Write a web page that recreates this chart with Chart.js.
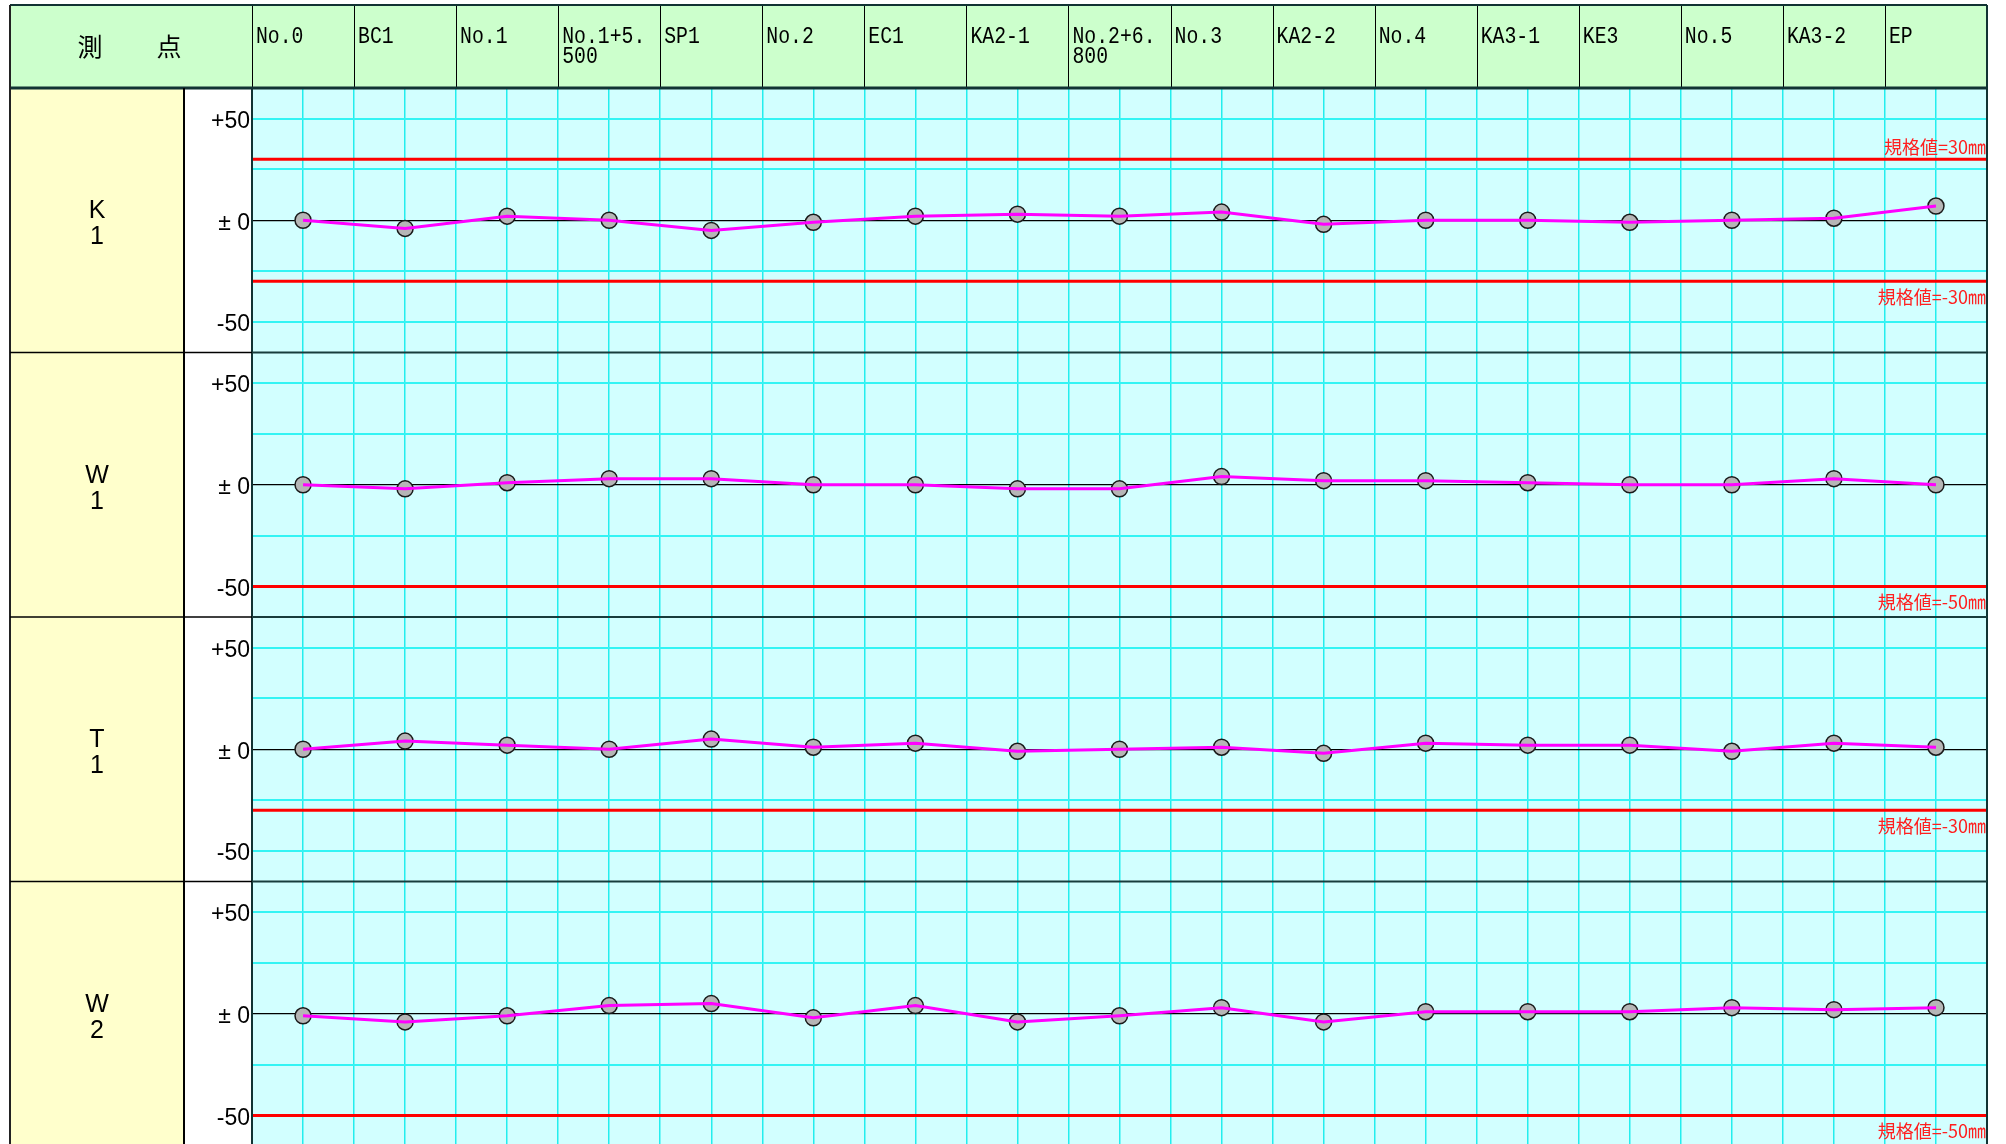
<!DOCTYPE html>
<html>
<head>
<meta charset="utf-8">
<script src="https://cdn.jsdelivr.net/npm/chart.js@4/dist/chart.umd.min.js"></script>
<style>
html,body{margin:0;padding:0;background:#fff;overflow:hidden;}
canvas{display:block;}
</style>
</head>
<body>
<canvas id="c" width="2006" height="1150"></canvas>
<script>
// ---- data ----
const stations = ['No.0','BC1','No.1','No.1+5.500','SP1','No.2','EC1','KA2-1','No.2+6.800','No.3','KA2-2','No.4','KA3-1','KE3','No.5','KA3-2','EP'];
const headerTitle = ['測','点'];
const panelNames = ['K1','W1','T1','W2'];
const k1Values = [0,-4,2,0,-5,-1,2,3,2,4,-2,0,0,-1,0,1,7];
const w1Values = [0,-2,1,3,3,0,0,-2,-2,4,2,2,1,0,0,3,0];
const t1Values = [0,4,2,0,5,1,3,-1,0,1,-2,3,2,2,-1,3,1];
const w2Values = [-1,-4,-1,4,5,-2,4,-4,-1,3,-4,1,1,1,3,2,3];
const k1Limits = [30,-30];
const w1Limits = [-50];
const t1Limits = [-30];
const w2Limits = [-50];
const gridValues = [-50,-25,0,25,50];
const labelledTicks = [50,0,-50];
const tickLabels = ['+50','± 0','-50'];
const yMin = -65, yMax = 65;
const xMin = -0.5, xMax = stations.length - 0.5;

const panels = [
  {name: panelNames[0], values: k1Values, limits: k1Limits},
  {name: panelNames[1], values: w1Values, limits: w1Limits},
  {name: panelNames[2], values: t1Values, limits: t1Limits},
  {name: panelNames[3], values: w2Values, limits: w2Limits}
];

// ---- datasets ----
const datasets = [];
panels.forEach((p, i) => {
  const yId = 'y' + i;
  const pts = p.values.map((v, j) => ({x: j, y: v}));
  datasets.push({data: pts, yAxisID: yId, xAxisID: 'x', borderColor: '#ff00ff', borderWidth: 3,
    pointRadius: 0, tension: 0, order: 1});
  datasets.push({data: pts, yAxisID: yId, xAxisID: 'x', showLine: false, pointRadius: 8,
    pointBackgroundColor: '#b6b6b6', pointBorderColor: '#1a1a1a', pointBorderWidth: 1.5, order: 2});
  p.limits.forEach(L => datasets.push({data: [{x: xMin, y: L}, {x: xMax, y: L}], yAxisID: yId, xAxisID: 'x',
    borderColor: '#ff0000', borderWidth: 3, pointRadius: 0, order: 3}));
});

// ---- scales ----
function yScale(i) {
  return {
    type: 'linear', position: 'left', stack: 'panels', stackWeight: 1, weight: 10 - i,
    min: yMin, max: yMax,
    afterBuildTicks(s) { s.ticks = gridValues.map(v => ({value: v})); },
    afterFit(s) { s.width = 68; s.paddingTop = 0; s.paddingBottom = 0; },
    ticks: {
      autoSkip: false, padding: 2, color: '#000', labelOffset: 3,
      font: {family: '"Liberation Sans", Arial, sans-serif', size: 23},
      callback: (v) => { const k = labelledTicks.indexOf(v); return k >= 0 ? tickLabels[k] : ''; }
    },
    grid: {
      drawTicks: false,
      color: c => (c.tick && c.tick.value === 0) ? '#000000' : '#33f4f4',
      lineWidth: c => (c.tick && c.tick.value === 0) ? 1.3 : 2
    },
    border: {display: true, color: '#183c3c', width: 2}
  };
}
const scales = {
  x: {
    type: 'linear', position: 'top', min: xMin, max: xMax,
    ticks: {display: false, stepSize: 0.5},
    grid: {drawTicks: false, color: '#22eeee', lineWidth: 1.5},
    border: {display: false},
    afterFit(s) { s.height = 0; s.paddingLeft = 0; s.paddingRight = 0; }
  }
};
panels.forEach((p, i) => { scales['y' + i] = yScale(i); });

// ---- table plugin (header, label cells, borders, limit texts) ----
const tablePlugin = {
  id: 'tableFrame',
  beforeDraw(chart) {
    const {ctx, chartArea: a} = chart;
    ctx.save();
    ctx.fillStyle = '#ffffff';
    ctx.fillRect(0, 0, chart.width, chart.height);
    ctx.fillStyle = '#ccffcc';
    ctx.fillRect(10, 5, a.right - 10, a.top - 5);
    const labelRight = chart.scales.y0.left;
    ctx.fillStyle = '#ffffcc';
    ctx.fillRect(10, a.top, labelRight - 10, a.bottom - a.top);
    ctx.fillStyle = '#d2ffff';
    ctx.fillRect(a.left, a.top, a.right - a.left, a.bottom - a.top);
    ctx.restore();
  },
  afterDraw(chart) {
    const {ctx, chartArea: a, scales: sc} = chart;
    const xs = sc.x;
    const labelRight = sc.y0.left;
    ctx.save();
    // header column separators + labels
    ctx.strokeStyle = '#000';
    ctx.lineWidth = 1;
    for (let i = 0; i <= stations.length; i++) {
      const px = Math.round(xs.getPixelForValue(i - 0.5)) + 0.5;
      ctx.beginPath(); ctx.moveTo(px, 5); ctx.lineTo(px, a.top); ctx.stroke();
    }
    ctx.fillStyle = '#000';
    ctx.textBaseline = 'alphabetic';
    ctx.textAlign = 'left';
    ctx.font = '23px "Liberation Mono", "DejaVu Sans Mono", monospace';
    stations.forEach((s, i) => {
      const left = xs.getPixelForValue(i - 0.5) + 4;
      const lines = s.length > 8 ? [s.slice(0, 7), s.slice(7)] : [s];
      lines.forEach((ln, k) => {
        ctx.save();
        ctx.translate(left, 43 + k * 20);
        ctx.scale(0.86, 1);
        ctx.fillText(ln, 0, 0);
        ctx.restore();
      });
    });
    // header title
    ctx.font = '25px "Noto Sans CJK JP", sans-serif';
    ctx.textAlign = 'center';
    ctx.textBaseline = 'middle';
    ctx.fillText(headerTitle[0], 90, 46);
    ctx.fillText(headerTitle[1], 169, 46);

    // frame lines
    ctx.strokeStyle = '#113333';
    ctx.lineWidth = 2;
    ctx.beginPath(); ctx.moveTo(10, 5); ctx.lineTo(a.right, 5); ctx.stroke();
    ctx.lineWidth = 3;
    ctx.beginPath(); ctx.moveTo(10, a.top); ctx.lineTo(a.right, a.top); ctx.stroke();
    ctx.lineWidth = 2;
    ctx.beginPath(); ctx.moveTo(a.right, 5); ctx.lineTo(a.right, a.bottom); ctx.stroke();
    ctx.beginPath(); ctx.moveTo(a.left, a.top); ctx.lineTo(a.left, a.bottom); ctx.stroke();
    ctx.strokeStyle = '#222';
    ctx.beginPath(); ctx.moveTo(10, 5); ctx.lineTo(10, a.bottom); ctx.stroke();
    ctx.strokeStyle = '#000';
    ctx.beginPath(); ctx.moveTo(labelRight, a.top); ctx.lineTo(labelRight, a.bottom); ctx.stroke();

    // panels
    panels.forEach((p, i) => {
      const ys = sc['y' + i];
      if (i > 0) {
        ctx.strokeStyle = '#000';
        ctx.lineWidth = 1.5;
        ctx.beginPath(); ctx.moveTo(10, ys.top); ctx.lineTo(a.left, ys.top); ctx.stroke();
        ctx.strokeStyle = '#183c3c';
        ctx.lineWidth = 2;
        ctx.beginPath(); ctx.moveTo(a.left, ys.top); ctx.lineTo(a.right, ys.top); ctx.stroke();
      }
      const cy = (ys.top + ys.bottom) / 2;
      const cx = (10 + labelRight) / 2;
      ctx.fillStyle = '#000';
      ctx.font = '25px "Liberation Sans", Arial, sans-serif';
      ctx.textAlign = 'center';
      ctx.textBaseline = 'alphabetic';
      ctx.fillText(p.name.charAt(0), cx, cy - 2);
      ctx.fillText(p.name.slice(1), cx, cy + 24);
      // limit labels
      ctx.fillStyle = '#ff1f1f';
      ctx.font = '18px "Noto Sans CJK JP", sans-serif';
      ctx.textAlign = 'right';
      p.limits.forEach(L => {
        const py = ys.getPixelForValue(L);
        const txt = '規格値=' + L + '㎜';
        ctx.fillText(txt, a.right - 1, L > 0 ? py - 5 : py + 23);
      });
    });
    ctx.restore();
  }
};

new Chart(document.getElementById('c'), {
  type: 'line',
  data: {datasets: datasets},
  options: {
    responsive: false,
    animation: false,
    events: [],
    layout: {autoPadding: false, padding: {left: 184, top: 88, right: 19, bottom: 4}},
    plugins: {legend: {display: false}, tooltip: {enabled: false}},
    scales: scales
  },
  plugins: [tablePlugin]
});
</script>
</body>
</html>
